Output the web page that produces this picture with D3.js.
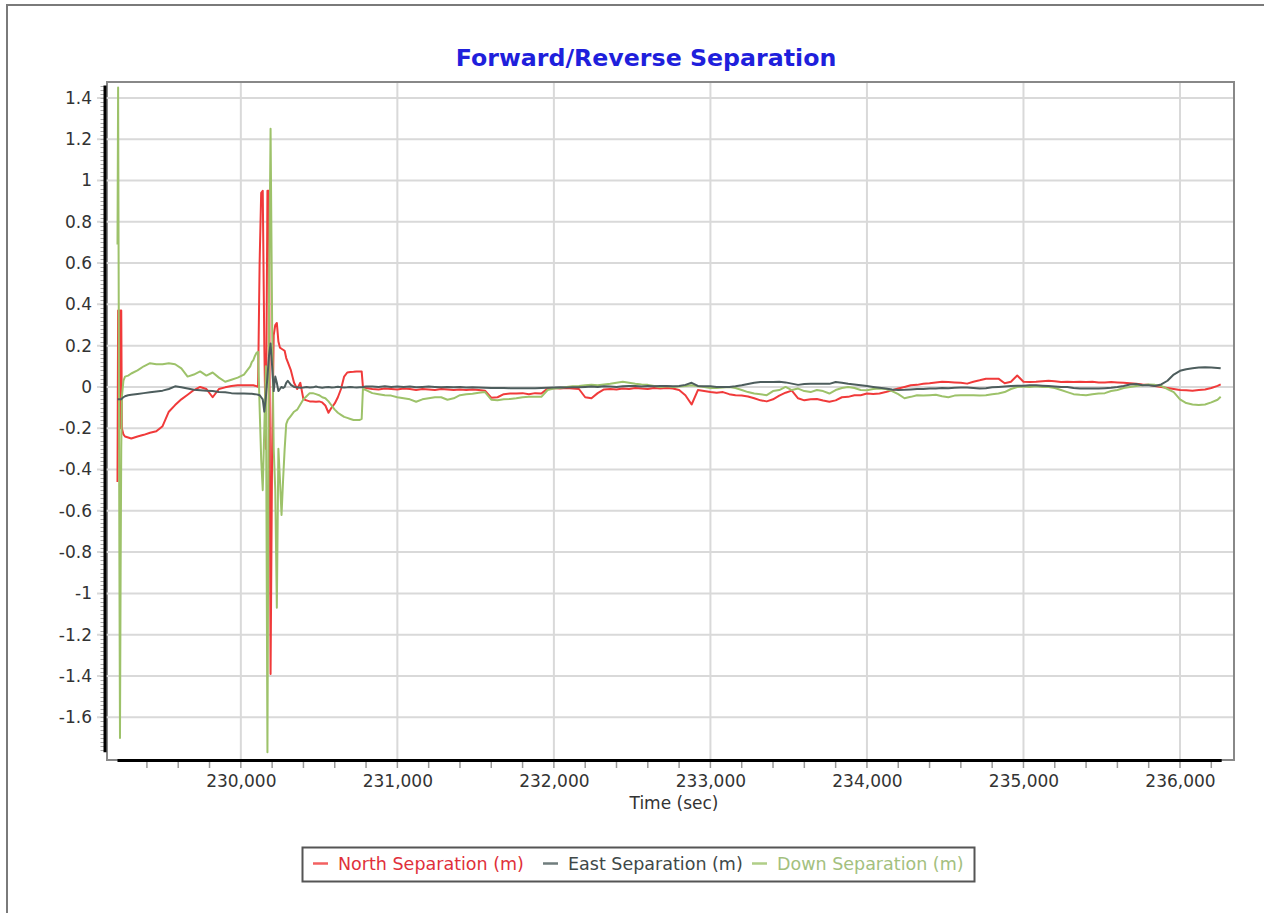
<!DOCTYPE html>
<html>
<head>
<meta charset="utf-8">
<script src="https://cdn.jsdelivr.net/npm/d3@7"></script>
<style>
  html, body { margin: 0; padding: 0; background: #fff; }
  svg { display: block; font-family: "DejaVu Sans", Verdana, sans-serif; }
</style>
</head>
<body>
<svg id="chart" width="1264" height="913"></svg>
<script>
// ---- Forward/Reverse separation samples (time in seconds of week, metres) ----
const timeSec = [
  229212, 229216, 229220, 229224, 229228, 229232, 229236, 229240, 229250, 229260, 229280,
  229300, 229340, 229380, 229420, 229460, 229500, 229540, 229580, 229620, 229660,
  229700, 229740, 229780, 229820, 229860, 229900, 229940, 229980, 230020, 230060,
  230070, 230080, 230090, 230100, 230110, 230120, 230130, 230140, 230150, 230160,
  230170, 230180, 230190, 230200, 230210, 230220, 230230, 230240, 230250, 230260,
  230270, 230280, 230290,
  230300, 230320, 230340, 230360, 230380, 230400, 230420, 230440, 230460, 230480,
  230500, 230520, 230540, 230560, 230580, 230600, 230620, 230640, 230660, 230680,
  230700, 230720, 230740, 230760, 230772, 230780, 230800,
  230840, 230880, 230920, 230960, 231000, 231040, 231080, 231120, 231160, 231200,
  231240, 231280, 231320, 231360, 231400, 231440, 231480, 231520, 231560, 231600,
  231640, 231680, 231720, 231760, 231800, 231840, 231880, 231920, 231960, 232000,
  232040, 232080, 232120, 232160, 232200, 232240, 232280, 232320, 232360, 232400,
  232440, 232480, 232520, 232560, 232600, 232640, 232680, 232720, 232760, 232800,
  232840, 232880, 232920, 232960, 233000, 233040, 233080, 233120, 233160, 233200,
  233240, 233280, 233320, 233360, 233400, 233440, 233480, 233520, 233560, 233600,
  233640, 233680, 233720, 233760, 233800, 233840, 233880, 233920, 233960, 234000,
  234040, 234080, 234120, 234160, 234200, 234240, 234280, 234320, 234360, 234400,
  234440, 234480, 234520, 234560, 234600, 234640, 234680, 234720, 234760, 234800,
  234840, 234880, 234920, 234960, 235000, 235040, 235080, 235120, 235160, 235200,
  235240, 235280, 235320, 235360, 235400, 235440, 235480, 235520, 235560, 235600,
  235640, 235680, 235720, 235760, 235800, 235840, 235880, 235920, 235960, 236000,
  236040, 236080, 236120, 236160, 236200, 236240, 236260
];

const northSep = [
  -0.46, 0.37, -0.30, 0.37, -0.20, 0.37, 0.37, -0.20, -0.23, -0.24, -0.245,
  -0.25, -0.24, -0.232, -0.222, -0.215, -0.19, -0.12, -0.088, -0.06, -0.038,
  -0.015, 0.0, -0.01, -0.05, -0.01, -0.002, 0.005, 0.008, 0.008, 0.008,
  0.008, 0.008, 0.006, 0.004, 0.0, 0.6, 0.94, 0.95, 0.2, -0.3,
  0.95, 0.95, -1.39, -0.3, 0.25, 0.30, 0.31, 0.22, 0.19, 0.185,
  0.18, 0.175, 0.14,
  0.12, 0.08, 0.02, -0.01, 0.02, -0.06, -0.065, -0.07, -0.07, -0.072,
  -0.07, -0.075, -0.09, -0.125, -0.10, -0.08, -0.05, -0.01, 0.05, 0.07,
  0.072, 0.073, 0.075, 0.075, 0.075, 0.0, -0.005,
  -0.01, -0.012, -0.008, -0.01, -0.012, -0.008, -0.01, -0.015, -0.01, -0.012,
  -0.015, -0.01, -0.012, -0.015, -0.012, -0.015, -0.012, -0.015, -0.018, -0.052,
  -0.05, -0.035, -0.032, -0.032, -0.03, -0.035, -0.03, -0.032, -0.008, -0.005,
  -0.008, -0.005, -0.008, -0.01, -0.05, -0.055, -0.03, -0.012, -0.01, -0.012,
  -0.008, -0.01, -0.005, -0.008, -0.01, -0.005, -0.008, -0.005, -0.008, -0.015,
  -0.04, -0.085, -0.015, -0.02, -0.025, -0.028, -0.025, -0.035, -0.04, -0.042,
  -0.046, -0.055, -0.065, -0.07, -0.06, -0.042, -0.028, -0.018, -0.055, -0.065,
  -0.06, -0.058, -0.066, -0.072, -0.065, -0.05, -0.048, -0.04, -0.04, -0.032,
  -0.034, -0.032, -0.025, -0.016, -0.008, 0.0, 0.008, 0.01, 0.015, 0.018,
  0.022, 0.025, 0.024, 0.022, 0.02, 0.016, 0.025, 0.032, 0.04, 0.04,
  0.04, 0.018, 0.025, 0.055, 0.025, 0.024, 0.025, 0.028, 0.03, 0.028,
  0.024, 0.025, 0.024, 0.025, 0.024, 0.025, 0.022, 0.022, 0.024, 0.022,
  0.02, 0.018, 0.015, 0.012, 0.01, 0.005, 0.0, -0.005, -0.01, -0.015,
  -0.016, -0.018, -0.015, -0.012, -0.005, 0.005, 0.012
];

const eastSep = [
  -0.06, -0.06, -0.06, -0.06, -0.06, -0.06, -0.06, -0.056, -0.05, -0.045, -0.04,
  -0.038, -0.034, -0.03, -0.026, -0.022, -0.018, -0.01, 0.003, -0.002, -0.008,
  -0.014, -0.016, -0.018, -0.02, -0.024, -0.026, -0.03, -0.032, -0.032, -0.033,
  -0.033, -0.034, -0.035, -0.036, -0.038, -0.04, -0.05, -0.06, -0.12, -0.05,
  0.05, 0.15, 0.21, 0.10, -0.02, 0.05, 0.02, -0.02, -0.01, 0.0,
  -0.005, 0.0, 0.02,
  0.03, 0.01, 0.0, -0.002, -0.004, -0.003, 0.0, -0.003, -0.002, 0.002,
  -0.002, -0.004, -0.002, 0.0, -0.003, -0.002, 0.001, -0.002, -0.003, -0.002,
  0.0, -0.002, -0.003, -0.002, -0.002, 0.0, 0.002,
  0.002, 0.0, 0.003, 0.0, 0.002, 0.0, 0.002, -0.002, 0.0, 0.002,
  0.0, -0.002, 0.0, -0.002, 0.0, -0.003, -0.002, -0.003, -0.004, -0.005,
  -0.005, -0.005, -0.006, -0.006, -0.006, -0.006, -0.006, -0.005, -0.004, -0.003,
  -0.002, -0.003, -0.002, -0.002, 0.0, 0.002, 0.0, 0.003, 0.002, 0.0,
  0.003, 0.005, 0.004, 0.002, 0.004, 0.003, 0.005, 0.004, 0.003, 0.005,
  0.01, 0.02, 0.005, 0.003, 0.003, 0.0, 0.0, 0.0, 0.003, 0.008,
  0.014, 0.02, 0.024, 0.024, 0.024, 0.025, 0.022, 0.016, 0.01, 0.014,
  0.016, 0.016, 0.016, 0.015, 0.024, 0.02, 0.015, 0.012, 0.008, 0.004,
  0.0, -0.004, -0.008, -0.012, -0.015, -0.014, -0.012, -0.01, -0.01, -0.008,
  -0.008, -0.005, -0.006, -0.004, -0.003, -0.003, -0.005, -0.008, -0.006, -0.002,
  0.0, 0.002, 0.004, 0.006, 0.006, 0.008, 0.008, 0.006, 0.004, 0.002,
  0.0, 0.0, -0.005, -0.008, -0.008, -0.008, -0.008, -0.006, -0.004, 0.0,
  0.005, 0.012, 0.014, 0.008, 0.008, 0.005, 0.012, 0.03, 0.06, 0.078,
  0.086, 0.09, 0.094, 0.095, 0.094, 0.092, 0.09
];

const downSep = [
  0.69, 1.45, 0.40, -0.80, -1.70, -0.90, -0.30, -0.05, 0.03, 0.05, 0.055,
  0.065, 0.08, 0.10, 0.115, 0.11, 0.11, 0.115, 0.11, 0.09, 0.05,
  0.06, 0.075, 0.055, 0.07, 0.045, 0.025, 0.035, 0.045, 0.06, 0.10,
  0.12, 0.13, 0.15, 0.165, 0.17, -0.1, -0.35, -0.50, -0.2, 0.1,
  -1.77, 0.4, 1.25, 0.3, -0.3, -0.5, -1.07, -0.3, -0.45, -0.62,
  -0.45, -0.30, -0.18,
  -0.16, -0.14, -0.12, -0.11, -0.085, -0.06, -0.045, -0.03, -0.03, -0.035,
  -0.04, -0.05, -0.055, -0.07, -0.09, -0.11, -0.125, -0.135, -0.145, -0.15,
  -0.155, -0.16, -0.16, -0.16, -0.155, -0.01, -0.015,
  -0.03, -0.035, -0.04, -0.042, -0.05, -0.055, -0.06, -0.072, -0.06, -0.055,
  -0.05, -0.05, -0.062, -0.055, -0.04, -0.035, -0.033, -0.028, -0.025, -0.062,
  -0.065, -0.06, -0.058, -0.055, -0.05, -0.048, -0.048, -0.048, -0.015, -0.008,
  -0.005, 0.0, 0.003, 0.005, 0.008, 0.01, 0.008, 0.012, 0.015, 0.02,
  0.025, 0.02, 0.015, 0.012, 0.01, 0.005, 0.0, 0.003, 0.0, 0.002,
  0.005, 0.008, 0.003, 0.0, -0.005, -0.005, -0.003, 0.0, -0.005, -0.015,
  -0.025, -0.032, -0.035, -0.04, -0.02, -0.015, 0.0, -0.015, -0.008, -0.02,
  -0.025, -0.015, -0.02, -0.032, -0.015, -0.005, 0.0, -0.005, -0.015, -0.016,
  -0.01, -0.008, -0.01, -0.02, -0.035, -0.055, -0.048, -0.04, -0.042, -0.04,
  -0.038, -0.045, -0.05, -0.042, -0.04, -0.04, -0.04, -0.042, -0.04, -0.035,
  -0.032, -0.025, -0.01, 0.0, 0.002, 0.0, 0.003, 0.0, 0.0, -0.005,
  -0.015, -0.025, -0.035, -0.038, -0.04, -0.035, -0.032, -0.03, -0.02, -0.015,
  -0.005, 0.0, 0.005, 0.008, 0.012, 0.01, 0.005, -0.01, -0.025, -0.06,
  -0.078, -0.085, -0.088, -0.085, -0.075, -0.062, -0.048
];

const seriesNames  = ["North Separation (m)", "East Separation (m)", "Down Separation (m)"];
const seriesColors = ["#f03a3a", "#4d5d5d", "#9dc26a"];
const legendTextColors = ["#e0303a", "#404848", "#a3c07e"];

const xTickValues = [230000, 231000, 232000, 233000, 234000, 235000, 236000];
const xTickLabels = ["230,000", "231,000", "232,000", "233,000", "234,000", "235,000", "236,000"];
const yTickValues = [1.4, 1.2, 1, 0.8, 0.6, 0.4, 0.2, 0, -0.2, -0.4, -0.6, -0.8, -1, -1.2, -1.4, -1.6];
const yTickLabels = ["1.4", "1.2", "1", "0.8", "0.6", "0.4", "0.2", "0", "-0.2", "-0.4", "-0.6", "-0.8", "-1", "-1.2", "-1.4", "-1.6"];

// ---- layout ----
const W = 1264, H = 913;
const plot = { left: 107, top: 82, right: 1234, bottom: 760 };
const svg = d3.select("#chart");

const x = d3.scaleLinear().domain([229145, 236345]).range([plot.left, plot.right]);
const y = d3.scaleLinear().domain([-1.807, 1.477]).range([plot.bottom, plot.top]);

// outer frame of the chart control
svg.append("path")
  .attr("d", `M7,${H} V5 H${W}`)
  .attr("fill", "none").attr("stroke", "#7a7a7a").attr("stroke-width", 2);

// title
svg.append("text")
  .attr("x", 646).attr("y", 66)
  .attr("text-anchor", "middle")
  .attr("font-size", 23.7).attr("font-weight", "bold")
  .attr("fill", "#1f1fdc")
  .text("Forward/Reverse Separation");

// plot background + border
svg.append("rect")
  .attr("x", plot.left).attr("y", plot.top)
  .attr("width", plot.right - plot.left).attr("height", plot.bottom - plot.top)
  .attr("fill", "#fff").attr("stroke", "#888").attr("stroke-width", 2);

// grid lines
const grid = svg.append("g").attr("stroke", "#d9d9d9").attr("stroke-width", 2);
grid.selectAll("line.h").data(yTickValues).join("line")
  .attr("class", "h")
  .attr("x1", 97).attr("x2", plot.right - 1)
  .attr("y1", d => y(d)).attr("y2", d => y(d));
grid.selectAll("line.v").data(xTickValues).join("line")
  .attr("class", "v")
  .attr("x1", d => x(d)).attr("x2", d => x(d))
  .attr("y1", plot.top + 1).attr("y2", plot.bottom);

// minor y ticks every 0.02
const yMinor = d3.range(-1.76, 1.4601, 0.02);
svg.append("g").attr("stroke", "#a8a8a8").attr("stroke-width", 1)
  .selectAll("line").data(yMinor).join("line")
  .attr("x1", 100.5).attr("x2", 104)
  .attr("y1", d => Math.round(y(d)) + 0.5).attr("y2", d => Math.round(y(d)) + 0.5);

// minor / major x ticks every 200 s
const xMinor = d3.range(229400, 236201, 200);
svg.append("g").attr("stroke", "#9a9a9a").attr("stroke-width", 1.5)
  .selectAll("line").data(xMinor).join("line")
  .attr("x1", d => x(d)).attr("x2", d => x(d))
  .attr("y1", plot.bottom + 2).attr("y2", plot.bottom + 8);

// y axis labels via d3 axis
const yAxis = d3.axisLeft(y).tickValues(yTickValues)
  .tickFormat((d, i) => yTickLabels[i]).tickSize(0).tickPadding(0);
const gy = svg.append("g").attr("transform", `translate(92,0)`).call(yAxis);
gy.select(".domain").remove();
gy.selectAll("text").attr("font-size", 17).attr("fill", "#333")
  .attr("font-family", '"DejaVu Sans", Verdana, sans-serif');

// x axis labels via d3 axis
const xAxis = d3.axisBottom(x).tickValues(xTickValues)
  .tickFormat((d, i) => xTickLabels[i]).tickSize(0).tickPadding(0);
const gx = svg.append("g").attr("transform", `translate(0,775)`).call(xAxis);
gx.select(".domain").remove();
gx.selectAll("text").attr("font-size", 17).attr("fill", "#333")
  .attr("font-family", '"DejaVu Sans", Verdana, sans-serif');

svg.append("text")
  .attr("x", 674).attr("y", 809)
  .attr("text-anchor", "middle").attr("font-size", 17).attr("fill", "#333")
  .text("Time (sec)");

// series lines
const seriesValues = [northSep, eastSep, downSep];
const line = d3.line().x(d => x(d[0])).y(d => y(d[1]));
const drawOrder = [0, 2, 1];
const gLines = svg.append("g");
drawOrder.forEach(i => {
  gLines.append("path")
    .datum(timeSec.map((t, k) => [t, seriesValues[i][k]]))
    .attr("fill", "none")
    .attr("stroke", seriesColors[i])
    .attr("stroke-width", 2)
    .attr("stroke-linejoin", "round")
    .attr("d", line);
});

// axis lines spanning the data extent
const allVals = northSep.concat(eastSep, downSep);
const [vMin, vMax] = d3.extent(allVals);
const [tMin, tMax] = d3.extent(timeSec);
svg.append("line")
  .attr("x1", 105).attr("x2", 105)
  .attr("y1", y(vMax) - 2).attr("y2", y(vMin))
  .attr("stroke", "#000").attr("stroke-width", 3);
svg.append("line")
  .attr("x1", x(tMin)).attr("x2", x(tMax) + 1)
  .attr("y1", 760.5).attr("y2", 760.5)
  .attr("stroke", "#000").attr("stroke-width", 3);

// legend
const legend = svg.append("g");
legend.append("rect")
  .attr("x", 302.5).attr("y", 847.5).attr("width", 672).attr("height", 34)
  .attr("fill", "#fff").attr("stroke", "#555").attr("stroke-width", 2);
const legendX = [313, 543, 752];
seriesNames.forEach((name, i) => {
  legend.append("line")
    .attr("x1", legendX[i]).attr("x2", legendX[i] + 15)
    .attr("y1", 863.5).attr("y2", 863.5)
    .attr("stroke", seriesColors[i]).attr("stroke-width", 2.5).attr("opacity", 0.8);
  legend.append("text")
    .attr("x", legendX[i] + 25).attr("y", 870)
    .attr("font-size", 17.5).attr("fill", legendTextColors[i])
    .text(name);
});
</script>
</body>
</html>
